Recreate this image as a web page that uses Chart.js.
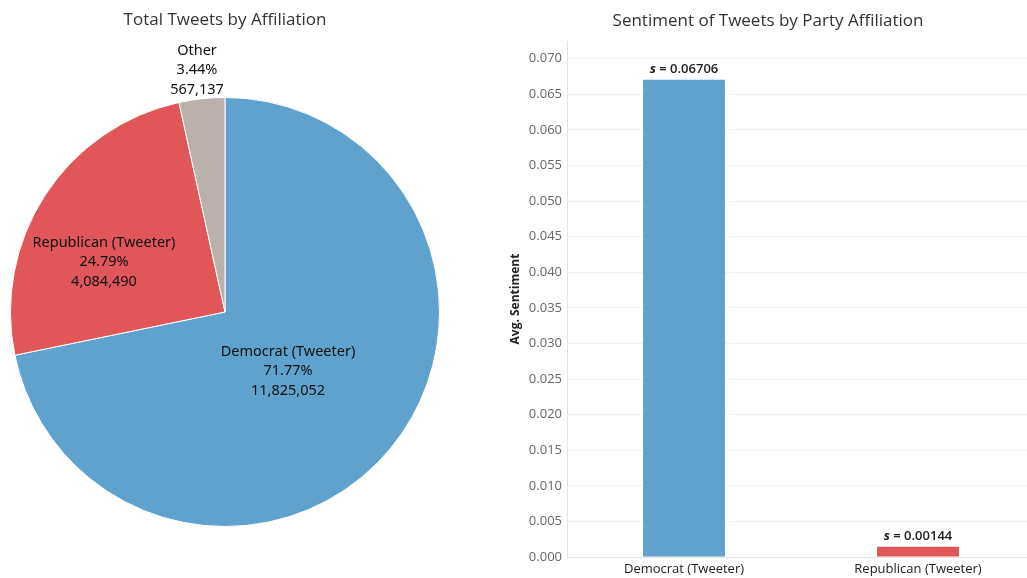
<!DOCTYPE html>
<html>
<head>
<meta charset="utf-8">
<script src="https://cdn.jsdelivr.net/npm/chart.js@4.4.1/dist/chart.umd.min.js"></script>
<style>
  html, body { margin: 0; padding: 0; background: #fff; overflow: hidden; }
  body { width: 1027px; height: 578px; position: relative; }
  #pieWrap { position: absolute; left: 0; top: 0; width: 460px; height: 578px; }
  #barWrap { position: absolute; left: 490px; top: 0; width: 545px; height: 578px; }
</style>
</head>
<body>
<div id="pieWrap"><canvas id="pieChart"></canvas></div>
<div id="barWrap"><canvas id="barChart"></canvas></div>
<script>
// Tweet counts per affiliation
const affiliations = ['Democrat (Tweeter)', 'Republican (Tweeter)', 'Other'];
const tweetCounts = [11825052, 4084490, 567137];
const tweetShares = ['71.77%', '24.79%', '3.44%'];
const affiliationColors = ['#5fa2ce', '#e15759', '#bab0ac'];

// Average sentiment per party
const parties = ['Democrat (Tweeter)', 'Republican (Tweeter)'];
const avgSentiment = [0.06706, 0.00144];
const partyColors = ['#5fa2ce', '#e15759'];

const fmt = n => n.toLocaleString('en-US');

// Title + slice labels on the pie
const pieLabels = {
  id: 'pieLabels',
  afterDraw(chart) {
    const ctx = chart.ctx;
    const arc0 = chart.getDatasetMeta(0).data[0];
    const cx = arc0.x, cy = arc0.y;
    ctx.save();
    ctx.textAlign = 'center';
    ctx.textBaseline = 'middle';
    ctx.fillStyle = '#333';
    ctx.font = '17px "Open Sans", sans-serif';
    ctx.fillText('Total Tweets by Affiliation', cx, 20);

    // label centre offsets from the pie centre
    const offs = [[63, 59], [-121, -50], [-28, -242]];
    ctx.fillStyle = '#111';
    ctx.font = '14.5px "Noto Sans", sans-serif';
    affiliations.forEach((name, i) => {
      const x = cx + offs[i][0], y = cy + offs[i][1];
      const lines = [name, tweetShares[i], fmt(tweetCounts[i])];
      lines.forEach((t, j) => ctx.fillText(t, x, y + (j - 1) * 19.5));
    });
    ctx.restore();
  }
};

new Chart(document.getElementById('pieChart'), {
  type: 'pie',
  data: {
    labels: affiliations,
    datasets: [{
      data: tweetCounts,
      backgroundColor: affiliationColors,
      borderColor: '#fff',
      borderWidth: 1
    }]
  },
  options: {
    responsive: true,
    maintainAspectRatio: false,
    animation: false,
    layout: { padding: { top: 97, bottom: 51, left: 10, right: 20 } },
    plugins: { legend: { display: false }, tooltip: { enabled: false } }
  },
  plugins: [pieLabels]
});

// Title and "s = value" labels over the bars
const barLabels = {
  id: 'barLabels',
  afterDraw(chart) {
    const ctx = chart.ctx;
    ctx.save();
    ctx.textAlign = 'center';
    ctx.textBaseline = 'middle';
    ctx.fillStyle = '#333';
    ctx.font = '17px "Open Sans", sans-serif';
    ctx.fillText('Sentiment of Tweets by Party Affiliation', 768 - 490, 21);

    const meta = chart.getDatasetMeta(0);
    const sFont = 'italic bold 13px "Open Sans", sans-serif';
    const vFont = '600 13px "Open Sans", sans-serif';
    meta.data.forEach((bar, i) => {
      const rest = ' = ' + avgSentiment[i].toFixed(5);
      const y = bar.y - 10;
      ctx.font = sFont;
      const sW = ctx.measureText('s').width;
      ctx.font = vFont;
      const rW = ctx.measureText(rest).width;
      const x0 = bar.x - (sW + rW) / 2;
      ctx.textAlign = 'left';
      ctx.fillStyle = '#222';
      ctx.font = sFont;
      ctx.fillText('s', x0, y);
      ctx.font = vFont;
      ctx.fillText(rest, x0 + sW, y);
    });
    ctx.restore();
  }
};

new Chart(document.getElementById('barChart'), {
  type: 'bar',
  data: {
    labels: parties,
    datasets: [{
      data: avgSentiment,
      backgroundColor: partyColors,
      barPercentage: 0.35,
      categoryPercentage: 1
    }]
  },
  options: {
    responsive: true,
    maintainAspectRatio: false,
    animation: false,
    layout: { padding: { top: 41, right: 0, left: 0, bottom: 0 } },
    plugins: { legend: { display: false }, tooltip: { enabled: false } },
    scales: {
      x: {
        grid: { display: false, drawTicks: false },
        border: { color: '#e4e4e4' },
        ticks: {
          color: '#222',
          padding: 4,
          font: { family: '"Open Sans", sans-serif', size: 13 }
        },
        afterFit(scale) { scale.height = 21; }
      },
      y: {
        min: 0,
        max: 0.0725,
        afterBuildTicks(scale) {
          scale.ticks = scale.ticks.filter(t => Math.abs(t.value * 200 - Math.round(t.value * 200)) < 1e-6);
        },
        afterFit(scale) { scale.width = 77; },
        grid: { color: '#f1f1f1', drawTicks: false },
        border: { color: '#e4e4e4' },
        title: {
          display: true,
          text: 'Avg. Sentiment',
          color: '#222',
          font: { family: '"Open Sans", sans-serif', size: 12, weight: 'bold' },
          padding: { top: 18, bottom: 0 }
        },
        ticks: {
          stepSize: 0.005,
          padding: 5,
          color: '#666',
          font: { family: '"Open Sans", sans-serif', size: 13 },
          callback: v => v.toFixed(3)
        }
      }
    }
  },
  plugins: [barLabels]
});
</script>
</body>
</html>
